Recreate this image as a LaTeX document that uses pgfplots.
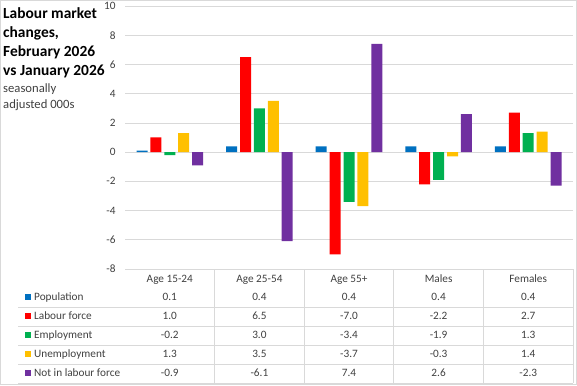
\documentclass[border=0pt]{standalone}
\usepackage{pgfplots}
\pgfplotsset{compat=1.18}
\usepackage{pgfplotstable}
\usepackage{fontspec}
\setmainfont{Carlito}
\definecolor{cpop}{HTML}{0070C0}
\definecolor{clf}{HTML}{FF0000}
\definecolor{cemp}{HTML}{00B050}
\definecolor{cun}{HTML}{FFC000}
\definecolor{cnilf}{HTML}{7030A0}
\definecolor{gridc}{HTML}{D9D9D9}
\definecolor{txt}{HTML}{404040}
\newcommand\tabfont{\fontsize{11.3}{13}\selectfont}

\pgfplotstableread[col sep=comma]{
x,cat,pop,lf,emp,unemp,nilf
0,Age 15-24,0.1,1.0,-0.2,1.3,-0.9
1,Age 25-54,0.4,6.5,3.0,3.5,-6.1
2,Age 55+,0.4,-7.0,-3.4,-3.7,7.4
3,Males,0.4,-2.2,-1.9,-0.3,2.6
4,Females,0.4,2.7,1.3,1.4,-2.3
}\data

\begin{document}
\begin{tikzpicture}[x=1bp,y=1bp]
\useasboundingbox (0,0) rectangle (577,385);
\draw[gridc, line width=0.75bp] (0.5,0.5) rectangle (576.5,384.5);
\begin{axis}[
  at={(125bp,116bp)}, anchor=south west,
  width=448bp, height=263bp, scale only axis,
  xmin=-0.5, xmax=4.5, ymin=-8, ymax=10,
  ytick={-8,-6,...,10},
  xtick=\empty,
  axis line style={draw=none},
  ymajorgrids, major grid style={gridc, line width=0.75bp},
  ytick style={draw=none},
  yticklabel style={font=\tabfont, text=txt, xshift=-6bp},
  /pgf/number format/assume math mode=true,
  ybar=2.9bp, bar width=11bp,
  clip=false,
]
\addplot[fill=cpop, draw=none] table[x=x,y=pop] {\data};
\addplot[fill=clf, draw=none] table[x=x,y=lf] {\data};
\addplot[fill=cemp, draw=none] table[x=x,y=emp] {\data};
\addplot[fill=cun, draw=none] table[x=x,y=unemp] {\data};
\addplot[fill=cnilf, draw=none] table[x=x,y=nilf] {\data};
\end{axis}

% data table grid
\foreach \yy in {78,59,40,21,2} \draw[gridc, line width=0.75bp] (18,\yy) -- (573,\yy);
\foreach \k in {1,...,5} \draw[gridc, line width=0.75bp] ({125+89.6*\k},116) -- ({125+89.6*\k},2);

% data table contents
\foreach \r in {0,...,4}{
  \pgfmathsetmacro\xc{125+89.6*(\r+0.5)}
  \pgfplotstablegetelem{\r}{cat}\of\data
  \node[font=\tabfont, text=txt, anchor=base, inner sep=0] at (\xc,102.2) {\pgfplotsretval};
  \foreach \c/\yy in {pop/88,lf/69,emp/50,unemp/31,nilf/12}{
    \pgfplotstablegetelem{\r}{\c}\of\data
    \node[font=\tabfont, text=txt, anchor=base, inner sep=0] at (\xc,\yy-3.8) {\pgfmathprintnumber[fixed,fixed zerofill,precision=1,assume math mode=true]{\pgfplotsretval}};
  }
}

% legend keys
\foreach \col/\lab/\yy in {cpop/Population/88,clf/Labour force/69,cemp/Employment/50,cun/Unemployment/31,cnilf/Not in labour force/12}{
  \fill[\col] (25,\yy-3) rectangle (31,\yy+3);
  \node[font=\tabfont, text=txt, anchor=base west, inner sep=0] at (34,\yy-3.8) {\lab};
}

% title
\begin{scope}[every node/.style={anchor=base west, inner sep=0, text=black}]
\node[font=\fontsize{15.5}{19}\selectfont\bfseries] at (3,366.7) {Labour market};
\node[font=\fontsize{15.5}{19}\selectfont\bfseries] at (3,347.7) {changes,};
\node[font=\fontsize{15.5}{19}\selectfont\bfseries] at (3,328.7) {February 2026};
\node[font=\fontsize{15.5}{19}\selectfont\bfseries] at (3,309.7) {vs January 2026};
\node[font=\fontsize{12.7}{15}\selectfont, text=txt] at (3,292.3) {seasonally};
\node[font=\fontsize{12.7}{15}\selectfont, text=txt] at (3,276.7) {adjusted 000s};
\end{scope}
\end{tikzpicture}
\end{document}
